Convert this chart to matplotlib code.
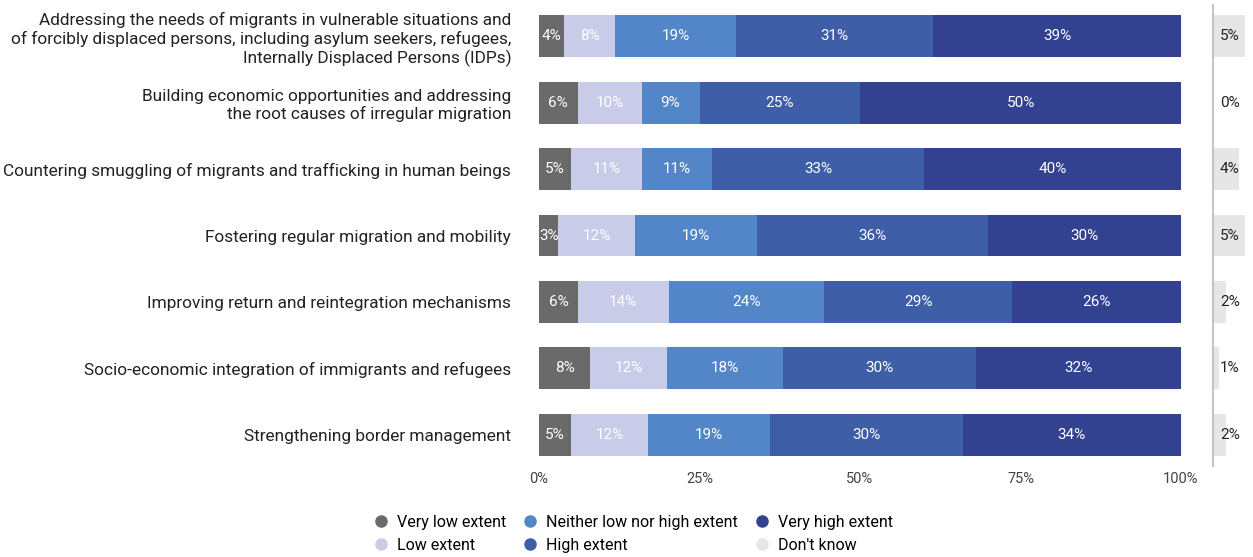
import matplotlib
matplotlib.use('Agg')
import matplotlib.pyplot as plt
from matplotlib.lines import Line2D
import numpy as np

plt.rcParams['font.family'] = ['Roboto', 'DejaVu Sans']

categories = [
    'Addressing the needs of migrants in vulnerable situations and\nof forcibly displaced persons, including asylum seekers, refugees,\nInternally Displaced Persons (IDPs)',
    'Building economic opportunities and addressing\nthe root causes of irregular migration',
    'Countering smuggling of migrants and trafficking in human beings',
    'Fostering regular migration and mobility',
    'Improving return and reintegration mechanisms',
    'Socio-economic integration of immigrants and refugees',
    'Strengthening border management',
]
series_names = ['Very low extent', 'Low extent', 'Neither low nor high extent',
                'High extent', 'Very high extent']
very_low = [4, 6, 5, 3, 6, 8, 5]
low = [8, 10, 11, 12, 14, 12, 12]
neither = [19, 9, 11, 19, 24, 18, 19]
high = [31, 25, 33, 36, 29, 30, 30]
very_high = [39, 50, 40, 30, 26, 32, 34]
dont_know = [5, 0, 4, 5, 2, 1, 2]
tick_labels = ['0%', '25%', '50%', '75%', '100%']

colors = ['#6b6a6a', '#c9cce8', '#5286c8', '#3f5ea8', '#334191']
dk_color = '#e6e6e6'

W, H = 1253, 557
fig = plt.figure(figsize=(W / 100, H / 100), dpi=100)
ax = fig.add_axes([539 / W, 1 - 468 / H, (1181 - 539) / W, 465 / H])
ax2 = fig.add_axes([1213 / W, 1 - 468 / H, (W - 1213) / W, 465 / H])

data = np.array([very_low, low, neither, high, very_high], dtype=float)
shares = data / data.sum(axis=0) * 100
y = np.arange(len(categories))
left = np.zeros(len(categories))
for i in range(len(series_names)):
    ax.barh(y, shares[i], left=left, height=0.63, color=colors[i])
    for j in range(len(categories)):
        ax.text(left[j] + shares[i][j] / 2, y[j], f'{int(data[i][j])}%',
                ha='center', va='center', color='white', fontsize=11)
    left += shares[i]

ax.set_xlim(0, 100)
ax.set_ylim(len(categories) - 0.5, -0.5)
ax.set_yticks(y)
ax.set_yticklabels(categories, fontsize=12.4, color='#222222')
ax.set_xticks([0, 25, 50, 75, 100])
ax.set_xticklabels(tick_labels, fontsize=10.5, color='#444444')
ax.tick_params(axis='both', length=0)
ax.tick_params(axis='y', pad=20)
ax.tick_params(axis='x', pad=3)
for s in ax.spines.values():
    s.set_visible(False)

ax2.barh(y, dont_know, height=0.63, color=dk_color)
for j in range(len(categories)):
    ax2.text(2.6, y[j], f'{dont_know[j]}%', ha='center', va='center',
             color='#222222', fontsize=11)
ax2.set_xlim(0, (W - 1213) / 6.42)
ax2.set_ylim(len(categories) - 0.5, -0.5)
ax2.set_xticks([])
ax2.set_yticks([])
for s in ax2.spines.values():
    s.set_visible(False)
ax2.plot([0, 0], [0.005, 0.995], transform=ax2.transAxes, color='#c4c4c4',
         linewidth=1.5, clip_on=False)

handles = [Line2D([], [], marker='o', linestyle='', markersize=8,
                  markerfacecolor=c, markeredgecolor=c) for c in colors]
handles.append(Line2D([], [], marker='o', linestyle='', markersize=8,
                      markerfacecolor=dk_color, markeredgecolor=dk_color))
labels = series_names + ["Don't know"]
fig.legend(handles, labels, ncol=3, loc='center', frameon=False,
           bbox_to_anchor=(633 / W, 1 - 534 / H), fontsize=11.5,
           handletextpad=0.5, columnspacing=1.0, labelspacing=0.5,
           handlelength=1.0)

fig.savefig('out.png', dpi=100)
